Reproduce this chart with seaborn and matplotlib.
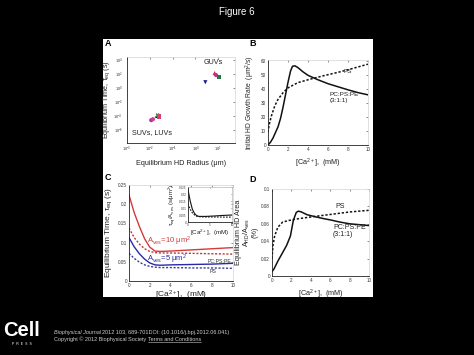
import numpy as np
import pandas as pd
import matplotlib
matplotlib.use("Agg")
import matplotlib.pyplot as plt
import seaborn as sns
from matplotlib.lines import Line2D

# ---------------- data ----------------
# Panel A: equilibrium time vs equilibrium HD radius (log-log)
a_ids = ["s1", "s2", "s3", "s4", "s5", "g1", "g2", "g3", "g4"]
a_radius = [0.0115, 0.0137, 0.019, 0.022, 0.026, 6.9, 7.9, 10.4, 2.7]
a_time = [10**-4.56, 10**-4.42, 10**-4.13, 10**-3.85, 10**-4.05,
          10**2.12, 10**1.84, 10**1.56, 10**0.82]
a_colors = ["#b0308f", "#d0409a", "#111111", "#2a8a3a", "#d04070",
            "#e02828", "#c03090", "#1f7a3a", "#1c1c8c"]
a_markers = ["o", "o", ".", "X", "s", "^", "o", "s", "v"]
a_xticks = [1e-3, 1e-2, 1e-1, 1e0, 1e1]
a_yticks = [1e-6, 1e-4, 1e-2, 1e0, 1e2, 1e4]

# Panel B: initial HD growth rate
b_x_pc = [0, 0.25, 0.5, 0.75, 1, 1.25, 1.5, 1.75, 2, 2.25, 2.45, 2.7, 3, 3.5, 4, 5, 6, 7, 8, 9, 10]
b_y_pc = [0, 2, 5, 9, 13, 19, 27, 36, 45, 53, 56.5, 56.8, 55.5, 52.5, 50, 46.8, 44, 41.8, 39.6, 37.6, 36]
b_x_ps = [0, 0.1, 0.33, 0.67, 1, 1.5, 2, 3, 4.2, 5.5, 7.2, 8.5, 10]
b_y_ps = [9, 14, 20.6, 28, 32.7, 37.5, 41, 44.8, 47.2, 49.6, 52.5, 55, 58]

# Panel C: equilibrium time
c_x = [0, 0.5, 1, 1.5, 2, 2.5, 3, 4, 6, 8, 10]
c_red_pc = [0.224, 0.178, 0.142, 0.110, 0.088, 0.078, 0.077, 0.078, 0.081, 0.084, 0.087]
c_red_ps = [0.138, 0.113, 0.096, 0.084, 0.077, 0.074, 0.073, 0.073, 0.072, 0.071, 0.070]
c_blue_pc = [0.113, 0.089, 0.071, 0.057, 0.047, 0.042, 0.041, 0.042, 0.043, 0.044, 0.046]
c_blue_ps = [0.072, 0.059, 0.049, 0.042, 0.038, 0.036, 0.035, 0.035, 0.034, 0.034, 0.033]
c_in_pc = [0.023, 0.015, 0.009, 0.006, 0.0045, 0.004, 0.004, 0.004, 0.0043, 0.0047, 0.005]
c_in_ps = [0.013, 0.009, 0.0065, 0.005, 0.0041, 0.0038, 0.0037, 0.0036, 0.0036, 0.0035, 0.0035]

# Panel D: equilibrium HD area
d_x_pc = [0, 0.2, 0.6, 1, 1.5, 1.9, 2.2, 2.5, 2.7, 3.0, 3.6, 4.5, 5.3, 6, 7, 8, 9, 10]
d_y_pc = [0.005, 0.008, 0.017, 0.025, 0.035, 0.046, 0.064, 0.073, 0.0745, 0.0738, 0.0705, 0.068, 0.066, 0.0645, 0.062, 0.060, 0.059, 0.058]
d_x_ps = [0, 0.1, 0.27, 0.6, 1.1, 1.8, 2.8, 4.5, 6.2, 8, 10]
d_y_ps = [0.020, 0.035, 0.046, 0.056, 0.062, 0.064, 0.066, 0.0686, 0.071, 0.0736, 0.0755]

ca_ticks = [0, 2, 4, 6, 8, 10]

# ---------------- style ----------------
sns.set_theme(style="white")
plt.rcParams["font.family"] = ["Liberation Sans", "DejaVu Sans"]
plt.rcParams["mathtext.fontset"] = "custom"
plt.rcParams["mathtext.rm"] = "Liberation Sans"
plt.rcParams["mathtext.it"] = "Liberation Sans:italic"
plt.rcParams["mathtext.bf"] = "Liberation Sans:bold"
plt.rcParams["mathtext.default"] = "regular"

W, H = 474, 355
fig = plt.figure(figsize=(W / 100, H / 100), dpi=100, facecolor="black")

def rect(x0, y0, x1, y1):
    return [x0 / W, 1 - y1 / H, (x1 - x0) / W, (y1 - y0) / H]

# white panel background
fig.add_artist(plt.Rectangle((103 / W, 1 - 297 / H), 270 / W, 258 / H,
                             transform=fig.transFigure, facecolor="white",
                             edgecolor="none", zorder=0))

fig.text(0.5, 1 - 12 / H, "Figure 6", color="white", ha="center", va="center", fontsize=7)

TICK = 3.3
LAB = 5.2

def style_ax(ax, tick=TICK):
    ax.set_facecolor("white")
    ax.patch.set_alpha(0)
    for s in ["left", "bottom"]:
        ax.spines[s].set_color("#222222")
        ax.spines[s].set_linewidth(0.6)
    for s in ["top", "right"]:
        ax.spines[s].set_color("#d5d5d5")
        ax.spines[s].set_linewidth(0.5)
    ax.tick_params(direction="in", length=1.5, width=0.4, labelsize=tick,
                   pad=1.5, colors="#333333", top=True, right=True)
    ax.tick_params(axis="both", which="both", labelcolor="#333333")

# ---------------- Panel A ----------------
axA = fig.add_axes(rect(127, 57, 235, 143))
dfA = pd.DataFrame({"id": a_ids, "radius": a_radius, "time": a_time})
sns.scatterplot(data=dfA, x="radius", y="time", hue="id", style="id",
                palette=dict(zip(a_ids, a_colors)), markers=dict(zip(a_ids, a_markers)),
                s=9, linewidth=0, legend=False, ax=axA, zorder=3)
axA.set_xscale("log")
axA.set_yscale("log")
axA.set_xlim(1e-3, 10**1.73)
axA.set_ylim(10**-7.8, 10**4.4)
axA.set_xticks(a_xticks)
axA.set_yticks(a_yticks)
axA.minorticks_off()
style_ax(axA, tick=2.8)
axA.tick_params(axis="y", pad=3)
axA.set_xlabel("Equilibrium HD Radius (μm)", fontsize=LAB, labelpad=4, color="#222222")
axA.set_ylabel("Equilibrium Time, τ$_{eq}$ (s)", fontsize=LAB, labelpad=1, color="#222222")
axA.text(5.9, 10**3.6, "GUVs", fontsize=LAB, ha="center", va="center", color="#222222")
axA.text(0.0125, 10**-6.3, "SUVs, LUVs", fontsize=LAB, ha="center", va="center", color="#222222")

# ---------------- Panel B ----------------
axB = fig.add_axes(rect(268, 60, 368, 145))
sns.lineplot(x=b_x_pc, y=b_y_pc, ax=axB, color="#111111", linewidth=1.1)
sns.lineplot(x=b_x_ps, y=b_y_ps, ax=axB, color="#111111", linewidth=1.1, linestyle=(0, (1.5, 1.2)))
axB.set_xlim(0, 10)
axB.set_ylim(0, 61)
axB.set_xticks(ca_ticks)
axB.set_yticks([0, 10, 20, 30, 40, 50, 60])
style_ax(axB)
axB.set_xlabel("[Ca$^{2+}$],  (mM)", fontsize=LAB, labelpad=3, color="#222222")
axB.set_ylabel("Initial HD Growth Rate  (μm$^2$/s)", fontsize=LAB - 0.3, labelpad=3, color="#222222")
axB.text(8.0, 52.5, "PS", fontsize=4.6, ha="center", va="center", color="#222222")
axB.text(6.2, 34, "PC:PS:PE\n(3:1:1)", fontsize=4.6, ha="left", va="center",
         color="#222222", linespacing=1.1)

# ---------------- Panel C ----------------
axC = fig.add_axes(rect(129, 185, 233, 281))
red, red_d = "#d43a3a", "#b83838"
blue, blue_d = "#2a2aa8", "#3a3aa0"
sns.lineplot(x=c_x, y=c_red_pc, ax=axC, color=red, linewidth=1.0)
sns.lineplot(x=c_x, y=c_red_ps, ax=axC, color=red_d, linewidth=1.0, linestyle=(0, (1.5, 1.2)))
sns.lineplot(x=c_x, y=c_blue_pc, ax=axC, color=blue, linewidth=1.0)
sns.lineplot(x=c_x, y=c_blue_ps, ax=axC, color=blue_d, linewidth=1.0, linestyle=(0, (1.5, 1.2)))
axC.set_xlim(0, 10)
axC.set_ylim(0, 0.25)
axC.set_xticks(ca_ticks)
axC.set_yticks([0, 0.05, 0.1, 0.15, 0.2, 0.25])
axC.set_yticklabels(["0", "0.05", "0.1", "0.15", "0.2", "0.25"])
style_ax(axC)
axC.set_xlabel("[Ca$^{2+}$],  (mM)", fontsize=6, labelpad=0.5, color="#222222")
axC.set_ylabel("Equilibrium Time, τ$_{eq}$ (s)", fontsize=6, labelpad=3, color="#222222")
axC.text(1.7, 0.102, "A$_{ves}$=10 μm$^2$", fontsize=5.5, color=red, ha="left", va="center")
axC.text(1.7, 0.057, "A$_{ves}$=5 μm$^2$", fontsize=5.5, color=blue, ha="left", va="center")
axC.text(9.9, 0.050, "PC:PS:PE", fontsize=3.8, ha="right", va="center", color="#333333")
axC.text(8.1, 0.026, "PS", fontsize=3.8, ha="center", va="center", color="#333333")

# inset
axI = fig.add_axes(rect(188, 187, 232, 222))
sns.lineplot(x=c_x, y=c_in_pc, ax=axI, color="#111111", linewidth=0.8)
sns.lineplot(x=c_x, y=c_in_ps, ax=axI, color="#111111", linewidth=0.8, linestyle=(0, (1.5, 1.2)))
axI.set_xlim(0, 10)
axI.set_ylim(0, 0.025)
axI.set_xticks([0, 5, 10])
axI.set_yticks([0, 0.005, 0.01, 0.015, 0.02, 0.025])
axI.set_yticklabels(["0", "0.005", "0.01", "0.015", "0.02", "0.025"])
style_ax(axI, tick=2.2)
axI.tick_params(length=1.0, pad=1)
for s in ["top", "right"]:
    axI.spines[s].set_color("#bbbbbb")
axI.set_xlabel("[Ca$^{2+}$],  (mM)", fontsize=4.5, labelpad=0.5, color="#222222")
axI.set_ylabel("τ$_{eq}$/A$_{ves}$ (s/μm$^2$)", fontsize=4.3, labelpad=1, color="#222222")

# ---------------- Panel D ----------------
axD = fig.add_axes(rect(272, 189, 369, 276))
sns.lineplot(x=d_x_pc, y=d_y_pc, ax=axD, color="#111111", linewidth=1.1)
sns.lineplot(x=d_x_ps, y=d_y_ps, ax=axD, color="#111111", linewidth=1.1, linestyle=(0, (1.5, 1.2)))
axD.set_xlim(0, 10)
axD.set_ylim(0, 0.1)
axD.set_xticks(ca_ticks)
axD.set_yticks([0, 0.02, 0.04, 0.06, 0.08, 0.1])
axD.set_yticklabels(["0", "0.02", "0.04", "0.06", "0.08", "0.1"])
style_ax(axD)
axD.set_xlabel("[Ca$^{2+}$],  (mM)", fontsize=LAB, labelpad=3, color="#222222")
axD.set_ylabel("Equilibrium HD Area\nA$_{HD}$/A$_{ves}$\n(%)", fontsize=LAB, labelpad=2,
               color="#222222", linespacing=0.9)
axD.text(7.0, 0.080, "PS", fontsize=5.0, ha="center", va="center", color="#222222")
axD.text(6.3, 0.052, "PC:PS:PE\n(3:1:1)", fontsize=5.0, ha="left", va="center",
         color="#222222", linespacing=1.1)

# panel letters
for lbl, (px, py) in {"A": (105, 44), "B": (249, 44), "C": (105, 178), "D": (249, 180)}.items():
    fig.text(px / W, 1 - py / H, lbl, fontsize=6.5, fontweight="bold", color="black",
             ha="left", va="center")

# ---------------- footer ----------------
fig.text(22 / W, 1 - 330 / H, "Cell", fontsize=14.5, fontweight="bold", color="white",
         ha="center", va="center")
fig.text(22 / W, 1 - 344 / H, "P  R  E  S  S", fontsize=2.5, color="white",
         ha="center", va="center")
bj = fig.text(54 / W, 1 - 332.5 / H, "Biophysical Journal", fontsize=4, style="italic",
              color="#cccccc", ha="left", va="center")
fig.canvas.draw()
r = fig.canvas.get_renderer()
bb = bj.get_window_extent(r)
fig.text(bb.x1 / W + 1 / W, 1 - 332.5 / H,
         "2012 103, 689-701DOI: (10.1016/j.bpj.2012.06.041)",
         fontsize=4, color="#cccccc", ha="left", va="center")
cp = fig.text(54 / W, 1 - 339.5 / H, "Copyright © 2012 Biophysical Society ",
              fontsize=4, color="#cccccc", ha="left", va="center")
fig.canvas.draw()
bb2 = cp.get_window_extent(r)
tc = fig.text(bb2.x1 / W, 1 - 339.5 / H, "Terms and Conditions",
              fontsize=4, color="#cccccc", ha="left", va="center")
fig.canvas.draw()
bb3 = tc.get_window_extent(r)
fig.add_artist(Line2D([bb3.x0 / W, bb3.x1 / W], [bb3.y0 / H + 0.5 / H] * 2,
                      transform=fig.transFigure, color="#cccccc", linewidth=0.4))

fig.savefig("out.png", dpi=100, facecolor="black")
